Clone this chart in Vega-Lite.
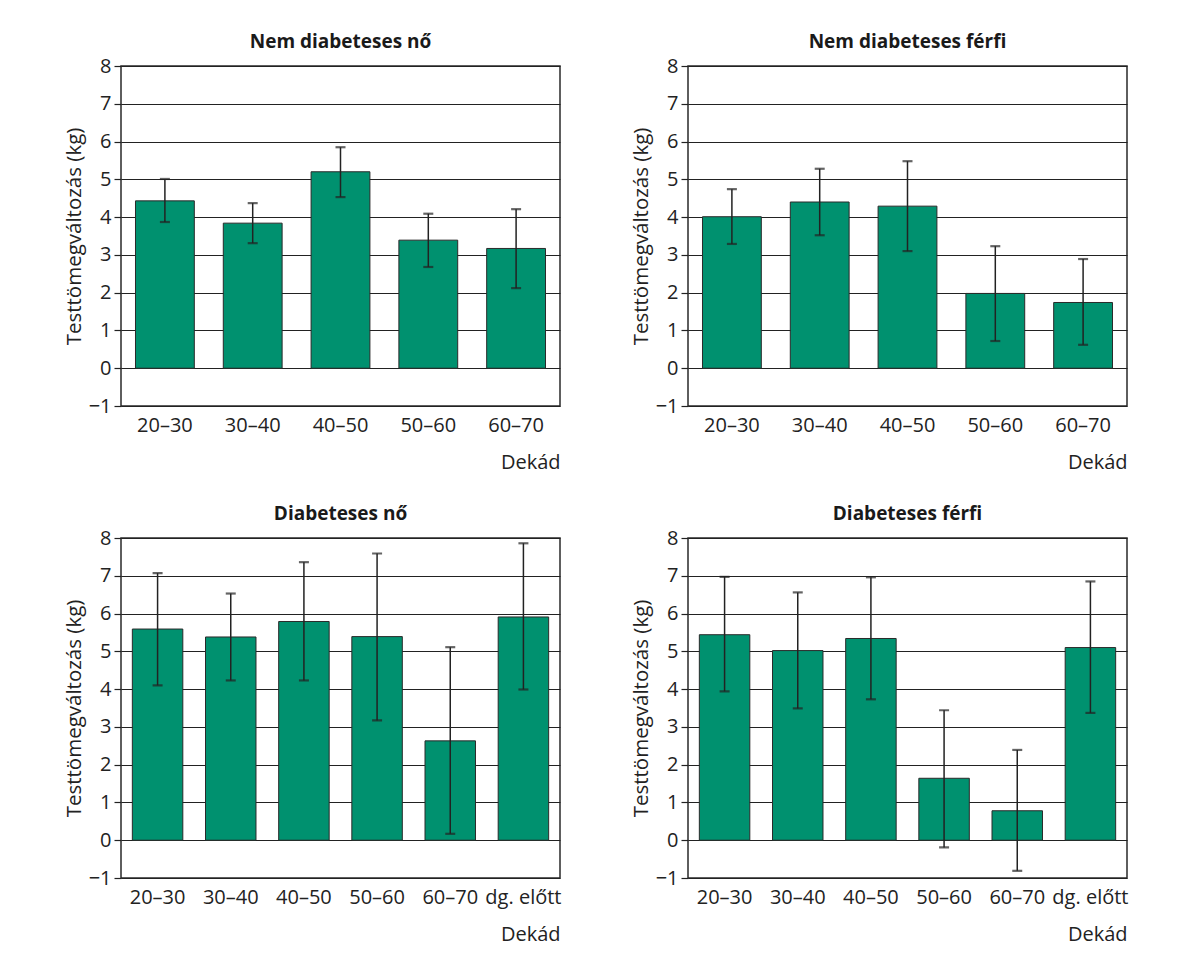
{
  "$schema": "https://vega.github.io/schema/vega-lite/v6.json",
  "background": "white",
  "padding": {"left": 63, "top": 32, "right": 10, "bottom": 5},
  "config": {
    "font": "Open Sans",
    "view": {"stroke": "#2a2a2a", "strokeWidth": 1.5},
    "axis": {"labelFont": "Open Sans", "titleFont": "Open Sans", "labelColor": "#222", "titleColor": "#222", "labelFontSize": 20, "titleFontWeight": "normal", "labelOverlap": false},
    "axisX": {"titleAnchor": "end", "titleFontSize": 20, "titlePadding": 17, "labelAngle": 0, "labelPadding": 9, "ticks": false, "domain": false, "grid": false},
    "axisY": {"titleFontSize": 20.5, "titlePadding": 4, "labelPadding": 3, "tickSize": 7, "tickColor": "#222", "tickWidth": 1.2, "grid": true, "gridColor": "#222", "gridWidth": 1.2, "gridOpacity": 1, "domain": false},
    "title": {"font": "Open Sans", "fontSize": 19, "fontWeight": "bold", "color": "#1a1a1a", "offset": 0},
    "concat": {"spacing": {"row": 31, "column": 68}}
  },
  "datasets": {
    "d": [
      {"panel": "Nem diabeteses nő", "cat": "20–30", "value": 4.43, "lo": 3.87, "hi": 5.01},
      {"panel": "Nem diabeteses nő", "cat": "30–40", "value": 3.84, "lo": 3.31, "hi": 4.37},
      {"panel": "Nem diabeteses nő", "cat": "40–50", "value": 5.2, "lo": 4.53, "hi": 5.85},
      {"panel": "Nem diabeteses nő", "cat": "50–60", "value": 3.39, "lo": 2.68, "hi": 4.09},
      {"panel": "Nem diabeteses nő", "cat": "60–70", "value": 3.17, "lo": 2.12, "hi": 4.21},
      {"panel": "Nem diabeteses férfi", "cat": "20–30", "value": 4.01, "lo": 3.29, "hi": 4.74},
      {"panel": "Nem diabeteses férfi", "cat": "30–40", "value": 4.4, "lo": 3.52, "hi": 5.28},
      {"panel": "Nem diabeteses férfi", "cat": "40–50", "value": 4.29, "lo": 3.1, "hi": 5.48},
      {"panel": "Nem diabeteses férfi", "cat": "50–60", "value": 1.98, "lo": 0.72, "hi": 3.23},
      {"panel": "Nem diabeteses férfi", "cat": "60–70", "value": 1.74, "lo": 0.62, "hi": 2.89},
      {"panel": "Diabeteses nő", "cat": "20–30", "value": 5.59, "lo": 4.1, "hi": 7.07},
      {"panel": "Diabeteses nő", "cat": "30–40", "value": 5.38, "lo": 4.23, "hi": 6.53},
      {"panel": "Diabeteses nő", "cat": "40–50", "value": 5.79, "lo": 4.23, "hi": 7.36},
      {"panel": "Diabeteses nő", "cat": "50–60", "value": 5.39, "lo": 3.17, "hi": 7.59},
      {"panel": "Diabeteses nő", "cat": "60–70", "value": 2.63, "lo": 0.17, "hi": 5.11},
      {"panel": "Diabeteses nő", "cat": "dg. előtt", "value": 5.91, "lo": 3.99, "hi": 7.86},
      {"panel": "Diabeteses férfi", "cat": "20–30", "value": 5.44, "lo": 3.94, "hi": 6.97},
      {"panel": "Diabeteses férfi", "cat": "30–40", "value": 5.02, "lo": 3.49, "hi": 6.56},
      {"panel": "Diabeteses férfi", "cat": "40–50", "value": 5.34, "lo": 3.73, "hi": 6.96},
      {"panel": "Diabeteses férfi", "cat": "50–60", "value": 1.64, "lo": -0.19, "hi": 3.44},
      {"panel": "Diabeteses férfi", "cat": "60–70", "value": 0.78, "lo": -0.81, "hi": 2.39},
      {"panel": "Diabeteses férfi", "cat": "dg. előtt", "value": 5.1, "lo": 3.37, "hi": 6.85}
    ]
  },
  "columns": 2,
  "concat": [
    {
      "title": "Nem diabeteses nő",
      "width": 439, "height": 340,
      "data": {"name": "d"},
      "transform": [{"filter": "datum.panel === 'Nem diabeteses nő'"}],
      "encoding": {
        "x": {"field": "cat", "type": "nominal", "sort": null, "title": "Dekád",
          "scale": {"domain": ["20–30", "30–40", "40–50", "50–60", "60–70"], "paddingInner": 0.33, "paddingOuter": 0.165}}
      },
      "layer": [
        {"mark": {"type": "bar", "fill": "#00916f", "stroke": "#2a2a2a", "strokeWidth": 1},
         "encoding": {"y": {"field": "value", "type": "quantitative", "title": "Testtömegváltozás (kg)",
           "scale": {"domain": [-1, 8], "nice": false, "zero": false},
           "axis": {"values": [-1, 0, 1, 2, 3, 4, 5, 6, 7, 8]}}}},
        {"mark": {"type": "rule", "color": "#222", "strokeWidth": 1.5},
         "encoding": {"y": {"field": "lo", "type": "quantitative", "title": "Testtömegváltozás (kg)", "axis": {"values": [-1, 0, 1, 2, 3, 4, 5, 6, 7, 8]}}, "y2": {"field": "hi"}}},
        {"mark": {"type": "tick", "color": "#222", "size": 10, "thickness": 2.2},
         "encoding": {"y": {"field": "lo", "type": "quantitative", "title": "Testtömegváltozás (kg)", "axis": {"values": [-1, 0, 1, 2, 3, 4, 5, 6, 7, 8]}}}},
        {"mark": {"type": "tick", "color": "#222", "size": 10, "thickness": 2.2},
         "encoding": {"y": {"field": "hi", "type": "quantitative", "title": "Testtömegváltozás (kg)", "axis": {"values": [-1, 0, 1, 2, 3, 4, 5, 6, 7, 8]}}}}
      ]
    },
    {
      "title": "Nem diabeteses férfi",
      "width": 439, "height": 340,
      "data": {"name": "d"},
      "transform": [{"filter": "datum.panel === 'Nem diabeteses férfi'"}],
      "encoding": {
        "x": {"field": "cat", "type": "nominal", "sort": null, "title": "Dekád",
          "scale": {"domain": ["20–30", "30–40", "40–50", "50–60", "60–70"], "paddingInner": 0.33, "paddingOuter": 0.165}}
      },
      "layer": [
        {"mark": {"type": "bar", "fill": "#00916f", "stroke": "#2a2a2a", "strokeWidth": 1},
         "encoding": {"y": {"field": "value", "type": "quantitative", "title": "Testtömegváltozás (kg)",
           "scale": {"domain": [-1, 8], "nice": false, "zero": false},
           "axis": {"values": [-1, 0, 1, 2, 3, 4, 5, 6, 7, 8]}}}},
        {"mark": {"type": "rule", "color": "#222", "strokeWidth": 1.5},
         "encoding": {"y": {"field": "lo", "type": "quantitative", "title": "Testtömegváltozás (kg)", "axis": {"values": [-1, 0, 1, 2, 3, 4, 5, 6, 7, 8]}}, "y2": {"field": "hi"}}},
        {"mark": {"type": "tick", "color": "#222", "size": 10, "thickness": 2.2},
         "encoding": {"y": {"field": "lo", "type": "quantitative", "title": "Testtömegváltozás (kg)", "axis": {"values": [-1, 0, 1, 2, 3, 4, 5, 6, 7, 8]}}}},
        {"mark": {"type": "tick", "color": "#222", "size": 10, "thickness": 2.2},
         "encoding": {"y": {"field": "hi", "type": "quantitative", "title": "Testtömegváltozás (kg)", "axis": {"values": [-1, 0, 1, 2, 3, 4, 5, 6, 7, 8]}}}}
      ]
    },
    {
      "title": "Diabeteses nő",
      "width": 439, "height": 340,
      "data": {"name": "d"},
      "transform": [{"filter": "datum.panel === 'Diabeteses nő'"}],
      "encoding": {
        "x": {"field": "cat", "type": "nominal", "sort": null, "title": "Dekád",
          "scale": {"domain": ["20–30", "30–40", "40–50", "50–60", "60–70", "dg. előtt"], "paddingInner": 0.31, "paddingOuter": 0.155}}
      },
      "layer": [
        {"mark": {"type": "bar", "fill": "#00916f", "stroke": "#2a2a2a", "strokeWidth": 1},
         "encoding": {"y": {"field": "value", "type": "quantitative", "title": "Testtömegváltozás (kg)",
           "scale": {"domain": [-1, 8], "nice": false, "zero": false},
           "axis": {"values": [-1, 0, 1, 2, 3, 4, 5, 6, 7, 8]}}}},
        {"mark": {"type": "rule", "color": "#222", "strokeWidth": 1.5},
         "encoding": {"y": {"field": "lo", "type": "quantitative", "title": "Testtömegváltozás (kg)", "axis": {"values": [-1, 0, 1, 2, 3, 4, 5, 6, 7, 8]}}, "y2": {"field": "hi"}}},
        {"mark": {"type": "tick", "color": "#222", "size": 10, "thickness": 2.2},
         "encoding": {"y": {"field": "lo", "type": "quantitative", "title": "Testtömegváltozás (kg)", "axis": {"values": [-1, 0, 1, 2, 3, 4, 5, 6, 7, 8]}}}},
        {"mark": {"type": "tick", "color": "#222", "size": 10, "thickness": 2.2},
         "encoding": {"y": {"field": "hi", "type": "quantitative", "title": "Testtömegváltozás (kg)", "axis": {"values": [-1, 0, 1, 2, 3, 4, 5, 6, 7, 8]}}}}
      ]
    },
    {
      "title": "Diabeteses férfi",
      "width": 439, "height": 340,
      "data": {"name": "d"},
      "transform": [{"filter": "datum.panel === 'Diabeteses férfi'"}],
      "encoding": {
        "x": {"field": "cat", "type": "nominal", "sort": null, "title": "Dekád",
          "scale": {"domain": ["20–30", "30–40", "40–50", "50–60", "60–70", "dg. előtt"], "paddingInner": 0.31, "paddingOuter": 0.155}}
      },
      "layer": [
        {"mark": {"type": "bar", "fill": "#00916f", "stroke": "#2a2a2a", "strokeWidth": 1},
         "encoding": {"y": {"field": "value", "type": "quantitative", "title": "Testtömegváltozás (kg)",
           "scale": {"domain": [-1, 8], "nice": false, "zero": false},
           "axis": {"values": [-1, 0, 1, 2, 3, 4, 5, 6, 7, 8]}}}},
        {"mark": {"type": "rule", "color": "#222", "strokeWidth": 1.5},
         "encoding": {"y": {"field": "lo", "type": "quantitative", "title": "Testtömegváltozás (kg)", "axis": {"values": [-1, 0, 1, 2, 3, 4, 5, 6, 7, 8]}}, "y2": {"field": "hi"}}},
        {"mark": {"type": "tick", "color": "#222", "size": 10, "thickness": 2.2},
         "encoding": {"y": {"field": "lo", "type": "quantitative", "title": "Testtömegváltozás (kg)", "axis": {"values": [-1, 0, 1, 2, 3, 4, 5, 6, 7, 8]}}}},
        {"mark": {"type": "tick", "color": "#222", "size": 10, "thickness": 2.2},
         "encoding": {"y": {"field": "hi", "type": "quantitative", "title": "Testtömegváltozás (kg)", "axis": {"values": [-1, 0, 1, 2, 3, 4, 5, 6, 7, 8]}}}}
      ]
    }
  ]
}
